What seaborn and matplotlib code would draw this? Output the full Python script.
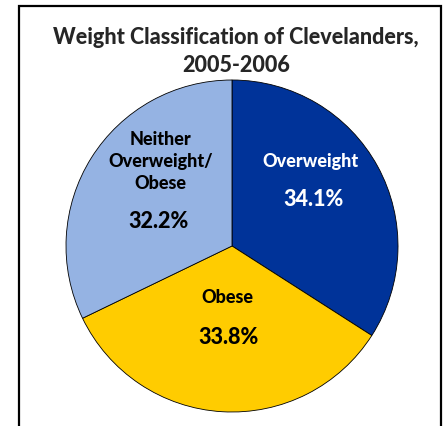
import matplotlib
matplotlib.use("Agg")
import matplotlib.pyplot as plt
import seaborn as sns
from matplotlib.patches import Rectangle

# data
categories = ["Overweight", "Obese", "Neither\nOverweight/\nObese"]
shares = [34.1, 33.8, 32.2]
pct_labels = ["34.1%", "33.8%", "32.2%"]
slice_colors = ["#003399", "#FFCC00", "#95B3E3"]
text_colors = ["white", "black", "black"]

sns.set_theme(style="white")
plt.rcParams["font.family"] = ["Lato", "DejaVu Sans"]

fig = plt.figure(figsize=(4.44, 4.26), dpi=100)
ax = fig.add_axes([66 / 444, 14 / 426, 332 / 444, 332 / 426])

wedges, _ = ax.pie(shares, colors=slice_colors, startangle=90, counterclock=False,
                   radius=1, wedgeprops=dict(edgecolor="black", linewidth=0.6))
ax.set_xlim(-1, 1)
ax.set_ylim(-1, 1)
ax.set_aspect("equal")
ax.axis("off")

# label spots inside each slice
name_pos = [(0.47, 0.51), (-0.03, -0.31), (-0.43, 0.51)]
pct_pos = [(0.49, 0.28), (-0.02, -0.55), (-0.44, 0.145)]
for i in range(len(categories)):
    ax.text(*name_pos[i], categories[i], ha="center", va="center", fontsize=13,
            fontweight=900, color=text_colors[i], linespacing=1.38)
    ax.text(*pct_pos[i], pct_labels[i], ha="center", va="center", fontsize=15.5,
            fontweight=900, color=text_colors[i])

fig.text(236 / 444, 1 - 37 / 426, "Weight Classification of Clevelanders,",
         ha="center", va="center", fontsize=15.5, fontweight=900)
fig.text(236 / 444, 1 - 65 / 426, "2005-2006",
         ha="center", va="center", fontsize=15.5, fontweight=900)

# outer chart frame
fig.patches.append(Rectangle((18.5 / 444, -0.05), 422 / 444, 1.05 - 6.5 / 426,
                             transform=fig.transFigure, fill=False,
                             edgecolor="black", linewidth=1.6))

fig.savefig("out.png", dpi=100)
